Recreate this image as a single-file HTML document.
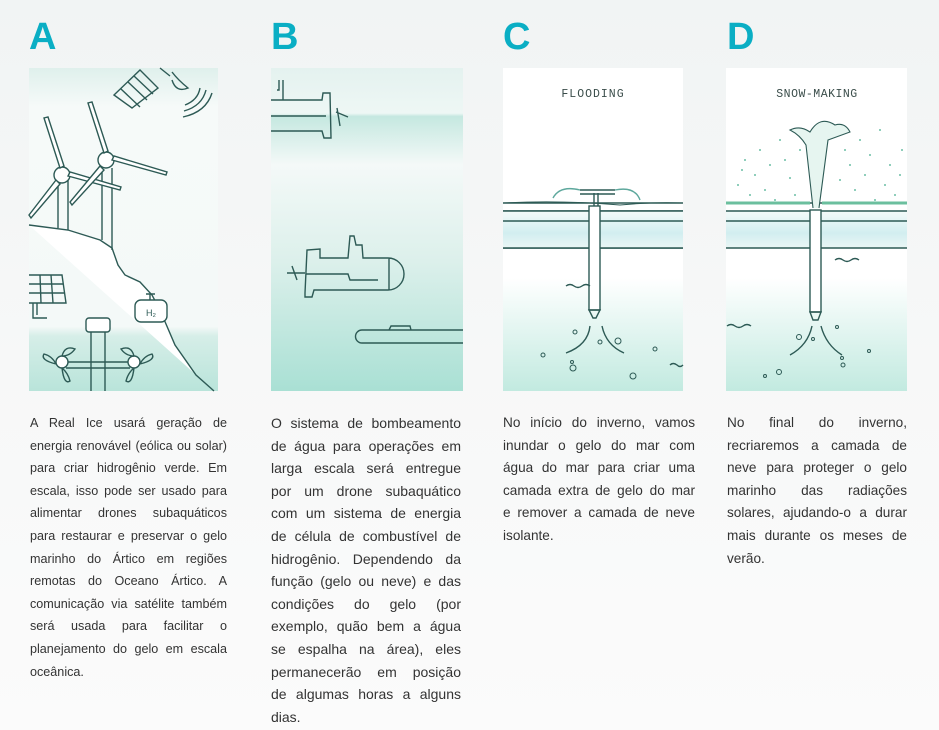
<!DOCTYPE html>
<html><head><meta charset="utf-8"><style>
body{margin:0;width:939px;height:730px;overflow:hidden;background:linear-gradient(180deg,#f1f4f4 0%,#f7f8f8 50%,#fbfbfb 100%);font-family:"Liberation Sans",sans-serif;position:relative}
.L{position:absolute;top:16px;font:bold 38px "Liberation Sans",sans-serif;color:#0aaec4}
.t{position:absolute;color:#333;}
.t div{text-align:justify;text-align-last:justify;white-space:nowrap;height:22.6px;line-height:22.6px}
.t div.e{text-align-last:left}
svg{position:absolute;left:0;top:0}
</style></head><body>
<div class="L" style="left:29px">A</div>
<div class="L" style="left:271px">B</div>
<div class="L" style="left:503px">C</div>
<div class="L" style="left:727px">D</div>

<svg width="939" height="730" viewBox="0 0 939 730">
<defs>
<linearGradient id="ga" x1="0" y1="0" x2="0" y2="1">
<stop offset="0" stop-color="#dff0ec"/><stop offset="0.12" stop-color="#f6faf9"/><stop offset="0.8" stop-color="#f4f9f8"/><stop offset="0.83" stop-color="#d6eee8"/><stop offset="1" stop-color="#b9e4da"/></linearGradient>
<linearGradient id="gb" x1="0" y1="0" x2="0" y2="1">
<stop offset="0" stop-color="#e4f2ef"/><stop offset="0.14" stop-color="#eef7f5"/><stop offset="0.15" stop-color="#c5e8e0"/><stop offset="0.3" stop-color="#f4f9f8"/><stop offset="0.6" stop-color="#dcf0eb"/><stop offset="1" stop-color="#a9e0d4"/></linearGradient>
<linearGradient id="gc" x1="0" y1="0" x2="0" y2="1">
<stop offset="0" stop-color="#ffffff"/><stop offset="0.65" stop-color="#ffffff"/><stop offset="1" stop-color="#c2eae0"/></linearGradient>
<linearGradient id="gi" x1="0" y1="0" x2="0" y2="1">
<stop offset="0" stop-color="#f4fbfa"/><stop offset="0.6" stop-color="#d2eef0"/><stop offset="1" stop-color="#eaf6f5"/></linearGradient>
</defs>
<!-- panels -->
<rect x="29" y="68" width="189" height="323" fill="url(#ga)"/>
<rect x="271" y="68" width="192" height="323" fill="url(#gb)"/>
<rect x="503" y="68" width="180" height="323" fill="url(#gc)"/>
<rect x="726" y="68" width="181" height="323" fill="url(#gc)"/>

<g fill="none" stroke="#2d5a55" stroke-width="1.4">
<!-- A -->
<path d="M29 225 L68 230 L100 240 L112 248 L118 265 L125 275 L140 282 L152 295 L160 310 L175 345 L196 375 L214 391" fill="#fff"/>
<path d="M29 230 L29 391" stroke="none"/>
<line x1="58" y1="180" x2="58" y2="228"/><line x1="68" y1="180" x2="68" y2="230"/>
<line x1="102" y1="168" x2="102" y2="240"/><line x1="112" y1="168" x2="112" y2="250"/>
<circle cx="62" cy="175" r="8" fill="#fff"/><circle cx="106" cy="160" r="8" fill="#fff"/>
<path d="M60 168 L44 118 L48 117 L64 166Z" fill="#fff"/>
<path d="M68 176 L120 190 L121 187 L70 172Z" fill="#fff"/>
<path d="M56 180 L29 215 L31 218 L60 184Z" fill="#fff"/>
<path d="M104 153 L88 103 L92 102 L108 151Z" fill="#fff"/>
<path d="M112 160 L166 175 L167 172 L114 156Z" fill="#fff"/>
<path d="M100 166 L70 202 L72 205 L104 170Z" fill="#fff"/>
<!-- solar -->
<path d="M29 275 L62 275 L66 303 L29 303"/><path d="M29 284 L63 284 M29 293 L64 293 M40 275 L41 303 M51 275 L53 303"/>
<path d="M33 303 L33 318 L47 318 M37 303 L37 315"/>
<!-- H2 -->
<rect x="135" y="300" width="32" height="22" rx="6" fill="#fff"/><path d="M150 300 L150 294 M146 294 L155 294"/>
<text x="146" y="316" font-size="9" fill="#2d5a55" stroke="none" font-family="Liberation Sans">H₂</text>
<!-- pole & turbines -->
<rect x="86" y="318" width="24" height="14" rx="3" fill="#fff"/>
<path d="M91 332 L91 391 M105 332 L105 391"/>
<path d="M66 362 L130 362 M66 368 L130 368"/>
<circle cx="62" cy="362" r="6" fill="#fff"/><circle cx="134" cy="362" r="6" fill="#fff"/>
<path d="M62 356 Q65 345 75 349 Q70 356 62 356 M56 364 Q40 360 44 354 Q52 356 56 364 M62 368 Q64 385 70 381 Q68 373 62 368"/>
<path d="M134 356 Q131 345 121 349 Q126 356 134 356 M140 364 Q156 360 152 354 Q144 356 140 364 M134 368 Q132 385 126 381 Q128 373 134 368"/>
<!-- satellite -->
<path d="M114 95 L140 70 L158 88 L132 108Z M121 89 L140 107 M128 82 L147 100 M134 76 L153 94"/>
<path d="M160 68 L170 76 M172 72 Q178 80 188 88 Q176 93 172 80" />
<path d="M185 105 Q198 100 200 88 M184 111 Q202 106 206 90 M183 117 Q206 112 212 93"/>
<!-- B -->
<path d="M271 100 L283 100 L283 80 M279 80 L279 90 L277 90 M283 100 L322 100 L323 93 L330 93 L331 138 L324 138 L322 131 L271 131 M271 116 L326 116"/>
<path d="M336 112 L348 117 M337 108 L340 126"/>
<path d="M305 293 L307 250 L320 249 L320 258 L348 258 L350 236 L354 236 L356 245 L362 245 L363 258 L388 258 A14 14 0 0 1 388 290 L314 290 L312 297 L305 297Z M306 274 L348 274 L350 280 L378 280 M389 258 L389 290"/>
<path d="M287 273 L305 273 M292 266 L297 280"/>
<path d="M362 330 L463 330 M362 343 L463 343 M362 330 A6.5 6.5 0 0 0 362 343 M389 330 L391 326 L410 326 L411 330"/>
<!-- C -->
<path d="M503 203 L683 203 M503 211 L683 211 M503 221 L683 221 M503 248 L683 248"/>
<rect x="503" y="211" width="180" height="37" fill="url(#gi)" stroke="none"/>
<path d="M503 211 L683 211 M503 221 L683 221 M503 248 L683 248"/>
<path d="M503 203 Q560 200 620 205 Q650 202 683 203" stroke-width="1"/>
<rect x="589" y="206" width="11" height="104" fill="#fff"/>
<path d="M594 206 L594 193 M598 206 L598 193 M580 190 L615 190 M580 194 L615 194"/>
<path d="M580 190 Q560 185 553 198 M615 190 Q635 186 640 200" stroke="#5ea89d"/>
<path d="M589 310 L600 310 L596 318 L593 318Z"/>
<path d="M590 326 Q588 345 566 353 M602 326 Q606 345 624 353"/>
<path d="M566 286 Q570 283 574 286 Q578 289 582 286 Q586 283 590 286"/>
<path d="M670 365 Q673 362 677 365 Q680 368 683 365"/>
<g stroke-width="1"><circle cx="575" cy="332" r="2"/><circle cx="618" cy="341" r="3"/><circle cx="600" cy="342" r="2"/><circle cx="543" cy="355" r="2"/><circle cx="655" cy="349" r="2"/><circle cx="573" cy="368" r="3"/><circle cx="633" cy="376" r="3"/><circle cx="572" cy="362" r="1.5"/></g>
<!-- D -->
<rect x="726" y="211" width="181" height="37" fill="url(#gi)" stroke="none"/>
<path d="M726 203 L907 203 M726 211 L907 211 M726 221 L907 221 M726 248 L907 248"/>
<path d="M726 203 L810 203 M822 203 L907 203" stroke="#6bbf9e" stroke-width="3"/>
<rect x="810" y="210" width="11" height="102" fill="#fff"/>
<path d="M810 312 L821 312 L818 320 L813 320Z"/>
<path d="M812 326 Q808 345 790 355 M821 326 Q826 345 842 355"/>
<path d="M813 208 L806 145 Q800 135 790 130 Q800 125 810 132 Q820 115 835 125 Q845 122 850 132 L828 140 L819 208" fill="#e6f5f0" stroke-width="1.1"/>
<path d="M835 260 Q839 257 843 260 Q847 263 851 260 Q855 257 859 260"/>
<path d="M727 326 Q731 323 735 326 Q739 329 743 326 Q747 323 751 326"/>
<g stroke-width="1"><circle cx="799" cy="337" r="2.5"/><circle cx="813" cy="339" r="1.5"/><circle cx="837" cy="327" r="1.5"/><circle cx="869" cy="351" r="1.5"/><circle cx="842" cy="358" r="1.5"/><circle cx="843" cy="365" r="2"/><circle cx="779" cy="372" r="2.5"/><circle cx="765" cy="376" r="1.5"/></g>
</g>
<g fill="#6cbfa6">
<circle cx="745" cy="160" r="1"/><circle cx="760" cy="150" r="1"/><circle cx="755" cy="175" r="1"/><circle cx="770" cy="165" r="1"/><circle cx="780" cy="140" r="1"/><circle cx="738" cy="185" r="1"/><circle cx="765" cy="190" r="1"/><circle cx="790" cy="178" r="1"/><circle cx="750" cy="195" r="1"/><circle cx="775" cy="200" r="1"/><circle cx="785" cy="160" r="1"/><circle cx="795" cy="195" r="1"/><circle cx="742" cy="170" r="1"/><circle cx="800" cy="150" r="1"/>
<circle cx="860" cy="140" r="1"/><circle cx="870" cy="155" r="1"/><circle cx="880" cy="130" r="1"/><circle cx="890" cy="165" r="1"/><circle cx="900" cy="175" r="1"/><circle cx="865" cy="175" r="1"/><circle cx="885" cy="185" r="1"/><circle cx="850" cy="165" r="1"/><circle cx="895" cy="195" r="1"/><circle cx="875" cy="200" r="1"/><circle cx="855" cy="190" r="1"/><circle cx="845" cy="150" r="1"/><circle cx="902" cy="150" r="1"/><circle cx="840" cy="180" r="1"/>
</g>
<text x="593" y="97" text-anchor="middle" font-family="Liberation Mono" font-size="11.5" fill="#3a4d4a" letter-spacing="1">FLOODING</text>
<text x="817" y="97" text-anchor="middle" font-family="Liberation Mono" font-size="11.5" fill="#3a4d4a" letter-spacing="0.5">SNOW-MAKING</text>
</svg>

<div class="t" style="left:30px;top:412px;width:197px;font-size:12.6px">
<div>A Real Ice usará geração de</div><div>energia renovável (eólica ou solar)</div><div>para criar hidrogênio verde. Em</div><div>escala, isso pode ser usado para</div><div>alimentar drones subaquáticos</div><div>para restaurar e preservar o gelo</div><div>marinho do Ártico em regiões</div><div>remotas do Oceano Ártico. A</div><div>comunicação via satélite também</div><div>será usada para facilitar o</div><div>planejamento do gelo em escala</div><div class="e">oceânica.</div>
</div>
<div class="t" style="left:271px;top:412px;width:190px;font-size:14px">
<div>O sistema de bombeamento</div><div>de água para operações em</div><div>larga escala será entregue</div><div>por um drone subaquático</div><div>com um sistema de energia</div><div>de célula de combustível de</div><div>hidrogênio. Dependendo da</div><div>função (gelo ou neve) e das</div><div>condições do gelo (por</div><div>exemplo, quão bem a água</div><div>se espalha na área), eles</div><div>permanecerão em posição</div><div>de algumas horas a alguns</div><div class="e">dias.</div>
</div>
<div class="t" style="left:503px;top:412px;width:192px;font-size:13.6px">
<div>No início do inverno, vamos</div><div>inundar o gelo do mar com</div><div>água do mar para criar uma</div><div>camada extra de gelo do mar</div><div>e remover a camada de neve</div><div class="e">isolante.</div>
</div>
<div class="t" style="left:727px;top:412px;width:180px;font-size:13.6px">
<div>No final do inverno,</div><div>recriaremos a camada de</div><div>neve para proteger o gelo</div><div>marinho das radiações</div><div>solares, ajudando-o a durar</div><div>mais durante os meses de</div><div class="e">verão.</div>
</div>
</body></html>
